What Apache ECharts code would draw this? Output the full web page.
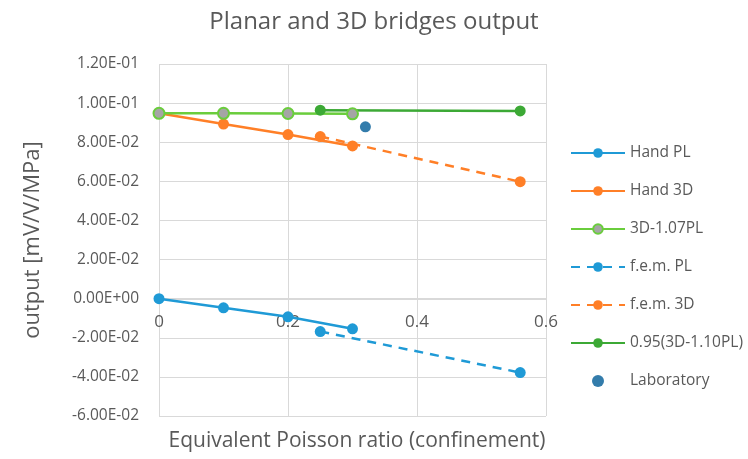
<!DOCTYPE html>
<html>
<head>
<meta charset="utf-8">
<script src="https://cdn.jsdelivr.net/npm/echarts@6/dist/echarts.min.js"></script>
<style>
  html, body { margin: 0; padding: 0; background: #fff; }
  #main { width: 748px; height: 459px; }
</style>
</head>
<body>
<div id="main"></div>
<script>
// values: [poisson ratio, output]
var handPL = [[0, 0], [0.1, -0.0047], [0.2, -0.0093], [0.3, -0.0154]];
var hand3D = [[0, 0.0948], [0.1, 0.0893], [0.2, 0.0839], [0.3, 0.0781]];
var pl107 = [[0, 0.0948], [0.1, 0.0948], [0.2, 0.0947], [0.3, 0.0945]];
var femPL = [[0.25, -0.0168], [0.56, -0.0378]];
var fem3D = [[0.25, 0.0829], [0.56, 0.0598]];
var pl110 = [[0.25, 0.0964], [0.56, 0.0960]];
var laboratory = [[0.32, 0.0879]];

var yTicks = ['-6.00E-02', '-4.00E-02', '-2.00E-02', '0.00E+00', '2.00E-02',
  '4.00E-02', '6.00E-02', '8.00E-02', '1.00E-01', '1.20E-01'];

var myChart = echarts.init(document.getElementById('main'));
var textColor = '#595959';
var font = 'Open Sans';

function lineSeries(name, data, color, dashed, markerColor) {
	return {
		name: name,
		type: 'line',
		data: data,
		symbol: 'circle',
		symbolSize: 11,
		showSymbol: true,
		lineStyle: { color: color, width: 2.5, type: dashed ? [9, 7] : 'solid' },
		itemStyle: {
			color: markerColor || color,
			borderColor: color,
			borderWidth: markerColor ? 2 : 0
		},
		z: 3
	};
}

var option = {
	animation: false,
	textStyle: { fontFamily: font },
	title: [
		{
			text: 'Planar and 3D bridges output',
			left: 'center',
			top: 5,
			textStyle: { color: textColor, fontSize: 24, fontWeight: 'normal', fontFamily: font }
		},
		{
			text: 'Equivalent Poisson ratio (confinement)',
			left: 352,
			textAlign: 'center',
			top: 426,
			textStyle: { color: textColor, fontSize: 21, fontWeight: 'normal', fontFamily: font }
		}
	],
	legend: {
		orient: 'vertical',
		left: 570,
		top: 145,
		padding: 0,
		itemWidth: 54,
		itemHeight: 12,
		itemGap: 22,
		textStyle: { color: textColor, fontSize: 15.5, fontFamily: font },
		data: ['Hand PL', 'Hand 3D', '3D-1.07PL', 'f.e.m. PL', 'f.e.m. 3D', '0.95(3D-1.10PL)', 'Laboratory']
	},
	grid: { left: 159, right: 202, top: 64, bottom: 43, containLabel: false },
	xAxis: {
		type: 'value',
		min: 0,
		max: 0.6,
		interval: 0.2,
		position: 'bottom',
		offset: -117,
		axisLine: { onZero: false, lineStyle: { color: '#d9d9d9' } },
		axisTick: { show: false },
		axisLabel: {
			color: textColor, fontSize: 17, fontFamily: font, margin: 15,
			formatter: function (v) { return v === 0 ? '0' : String(+v.toFixed(1)); }
		},
		splitLine: { lineStyle: { color: '#d9d9d9' } }
	},
	yAxis: {
		type: 'value',
		min: -0.06,
		max: 0.12,
		interval: 0.02,
		name: 'output [mV/V/MPa]',
		nameLocation: 'middle',
		nameGap: 115,
		nameTextStyle: { color: textColor, fontSize: 22, fontFamily: font },
		axisLine: { show: false },
		axisTick: { show: false },
		axisLabel: {
			color: textColor, fontSize: 15.5, fontFamily: font, margin: 20,
			formatter: function (v) { return yTicks[Math.round((v + 0.06) / 0.02)]; }
		},
		splitLine: { lineStyle: { color: '#d9d9d9' } }
	},
	series: [
		lineSeries('Hand PL', handPL, '#1f9ad6'),
		lineSeries('Hand 3D', hand3D, '#ff7f27'),
		lineSeries('3D-1.07PL', pl107, '#6acd3c', false, '#a5a5a5'),
		lineSeries('f.e.m. PL', femPL, '#1f9ad6', true),
		lineSeries('f.e.m. 3D', fem3D, '#ff7f27', true),
		lineSeries('0.95(3D-1.10PL)', pl110, '#3ca935'),
		{
			name: 'Laboratory',
			type: 'scatter',
			data: laboratory,
			symbol: 'circle',
			symbolSize: 11,
			itemStyle: { color: '#005b96' },
			z: 3
		}
	]
};

myChart.setOption(option);
</script>
</body>
</html>
